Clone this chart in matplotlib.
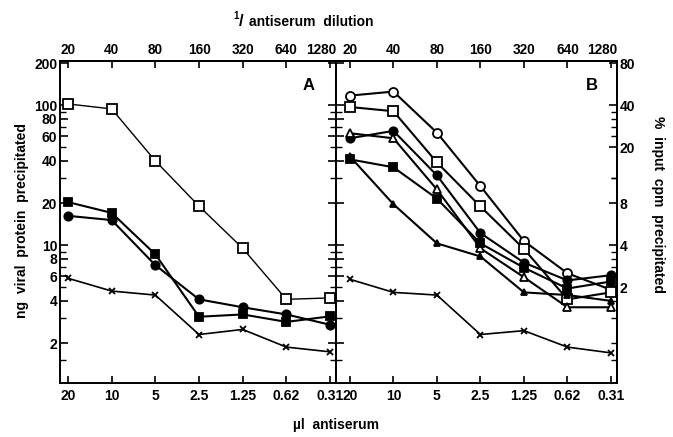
import matplotlib
matplotlib.use("Agg")
import matplotlib.pyplot as plt
import matplotlib.transforms as mtransforms
from matplotlib.ticker import FixedLocator, NullFormatter, FixedFormatter

plt.rcParams['font.family'] = ['Liberation Sans', 'DejaVu Sans']
plt.rcParams['font.weight'] = 'bold'

# ---- data ----
ul_labels = ['20', '10', '5', '2.5', '1.25', '0.62', '0.31']
dil_labels = ['20', '40', '80', '160', '320', '640', '1280']

A_open_sq = [102, 94, 40, 19.0, 9.5, 4.1, 4.2]
A_fill_sq = [20.3, 17.0, 8.6, 3.08, 3.2, 2.83, 3.1]
A_fill_circ = [16.2, 15.1, 7.2, 4.1, 3.6, 3.2, 2.7]
A_cross = [5.8, 4.7, 4.4, 2.3, 2.5, 1.87, 1.73]

B_open_circ = [117, 125, 63.6, 26.4, 10.7, 6.3, 4.8]
B_open_sq = [97, 90.5, 39, 18.9, 9.4, 4.1, 4.6]
B_fill_circ = [58, 65.5, 31.5, 12.2, 7.5, 5.6, 6.1]
B_open_tri = [63, 58, 25, 9.5, 5.9, 3.6, 3.6]
B_fill_sq = [41, 36, 21.5, 10.3, 6.9, 4.9, 5.5]
B_fill_tri = [43, 19.6, 10.3, 8.3, 4.6, 4.4, 4.0]
B_cross = [5.7, 4.6, 4.4, 2.3, 2.45, 1.87, 1.7]

ng_major = [2, 4, 6, 8, 10, 20, 40, 60, 80, 100, 200]
ng_minor = [1.5, 3, 5, 7, 9, 30, 50, 70, 90]
pct_major = [2, 4, 8, 20, 40, 80]
pct_factor = 0.4

W, H = 673, 437
fig = plt.figure(figsize=(W / 100, H / 100), dpi=100)
axA = fig.add_axes([60 / W, 54 / H, 276 / W, 322 / H])
axB = fig.add_axes([336 / W, 54 / H, 281 / W, 322 / H])

xs = list(range(len(ul_labels)))
FS = 10


def series(ax, y, marker, filled, lw=1.5, ms=6):
    ax.plot(xs, y, color='black', lw=lw, marker=marker, ms=ms,
            mfc='black' if filled else 'white', mec='black', mew=1.3,
            clip_on=False, zorder=3)


series(axA, A_open_sq, 's', False, lw=1.0, ms=6.5)
series(axA, A_fill_sq, 's', True, ms=6)
series(axA, A_fill_circ, 'o', True, ms=6)
series(axA, A_cross, 'x', False, lw=1.2, ms=5)

series(axB, B_open_circ, 'o', False, ms=6.5)
series(axB, B_open_sq, 's', False, ms=6.5)
series(axB, B_fill_circ, 'o', True, ms=6)
series(axB, B_open_tri, '^', False, ms=6)
series(axB, B_fill_sq, 's', True, ms=6)
series(axB, B_fill_tri, '^', True, ms=5)
series(axB, B_cross, 'x', False, lw=1.2, ms=5)

shift = mtransforms.ScaledTranslation(-9 / 100, 0, fig.dpi_scale_trans)

for ax, xl in ((axA, (-0.183, 6.137)), (axB, (-0.32, 6.14))):
    ax.set_yscale('log')
    ax.set_ylim(1.036, 206.7)
    ax.set_xlim(*xl)
    ax.yaxis.set_major_locator(FixedLocator(ng_major))
    ax.yaxis.set_minor_locator(FixedLocator(ng_minor))
    ax.yaxis.set_minor_formatter(NullFormatter())
    ax.set_xticks(xs)
    ax.set_xticklabels(ul_labels, fontsize=FS, fontweight='bold')
    ax.tick_params(axis='x', direction='in', length=5, width=1.2, pad=4)
    ax.tick_params(axis='y', which='major', direction='in', length=6,
                   width=1.2, left=True, right=True, pad=2)
    ax.tick_params(axis='y', which='minor', direction='in', length=4,
                   width=1.0, left=True, right=True)
    for sp in ax.spines.values():
        sp.set_linewidth(1.4)
    top = ax.secondary_xaxis('top')
    top.set_xticks(xs)
    top.set_xticklabels(dil_labels, fontsize=9.8, fontweight='bold')
    top.tick_params(direction='in', length=5, width=1.2, pad=3)
    top.spines['top'].set_linewidth(1.4)
    last = top.get_xticklabels()[-1]
    last.set_transform(last.get_transform() + shift)

axA.yaxis.set_major_formatter(FixedFormatter([str(v) for v in ng_major]))
for lab in axA.get_yticklabels():
    lab.set_fontsize(FS)
    lab.set_fontweight('bold')
axB.tick_params(axis='y', which='both', labelleft=False, right=False)

sec = axB.secondary_yaxis('right', functions=(lambda v: v * pct_factor,
                                               lambda v: v / pct_factor))
sec.set_yscale('log')
sec.yaxis.set_major_locator(FixedLocator(pct_major))
sec.yaxis.set_minor_locator(FixedLocator([v * pct_factor for v in ng_minor + [2, 4, 6, 8, 30, 60, 80]]))
sec.yaxis.set_major_formatter(FixedFormatter([str(v) for v in pct_major]))
sec.yaxis.set_minor_formatter(NullFormatter())
sec.tick_params(which='major', direction='in', length=6, width=1.2, pad=2,
                labelsize=FS)
sec.tick_params(which='minor', direction='in', length=4, width=1.0)
for lab in sec.get_yticklabels():
    lab.set_fontweight('bold')
sec.spines['right'].set_linewidth(1.4)

axA.text(0.9, 0.925, 'A', transform=axA.transAxes, fontsize=12,
         fontweight='bold', ha='center', va='center')
axB.text(0.91, 0.925, 'B', transform=axB.transAxes, fontsize=12,
         fontweight='bold', ha='center', va='center')

# top title: superscript 1 with slash, then text
fig.text(236 / W, 1 - 16 / H, '1', fontsize=7, fontweight='bold',
         ha='center', va='center')
fig.text(241 / W, 1 - 22 / H, '/', fontsize=12, fontweight='bold',
         ha='center', va='center')
fig.text(249 / W, 1 - 22 / H, 'antiserum  dilution', fontsize=FS,
         fontweight='bold', ha='left', va='center')
fig.text(336 / W, 1 - 425 / H, '\u00b5l  antiserum', fontsize=FS,
         fontweight='bold', ha='center', va='center')
fig.text(22 / W, 1 - 220 / H, 'ng  viral  protein  precipitated', fontsize=FS,
         fontweight='bold', ha='center', va='center', rotation=90)
fig.text(658 / W, 1 - 205 / H, '%  input  cpm  precipitated', fontsize=FS,
         fontweight='bold', ha='center', va='center', rotation=-90)

fig.savefig('out.png', dpi=100)
